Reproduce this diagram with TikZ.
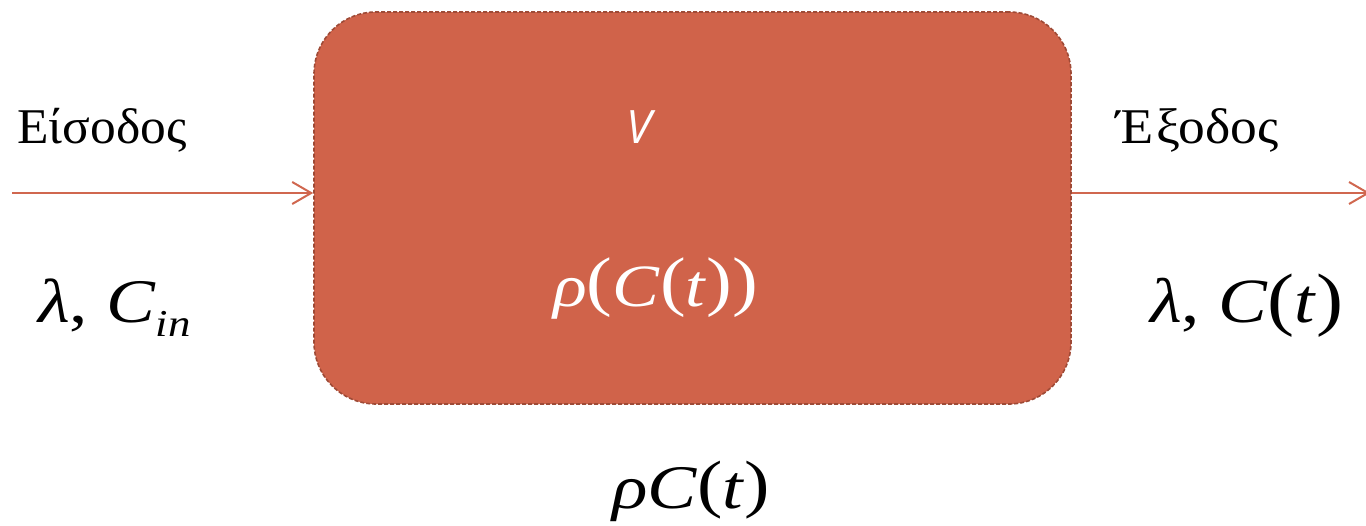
\documentclass[tikz,border=0pt]{standalone}
\usepackage{fontspec}
\setmainfont{Liberation Serif}
\newfontfamily\vfont{Open Sans}
\usetikzlibrary{arrows.meta}
\definecolor{boxfill}{HTML}{D0634A}
\definecolor{boxline}{HTML}{9E4A36}
\definecolor{arrowcol}{HTML}{D0674F}
% big parenthesis: size, raise, glyph
\newcommand\bpar[3]{\raisebox{#2}{\fontsize{#1}{#1}\selectfont #3}}
\tikzset{
  flow/.style={draw=arrowcol, line width=2pt, -{Straight Barb[length=19pt,width=22pt,line width=2pt]}},
  lbl/.style={inner sep=0pt, anchor=base west},
  reactor/.style={fill=boxfill, draw=boxline, line width=1.6pt, dash pattern=on 4pt off 2pt, rounded corners=62pt, minimum width=757pt, minimum height=392pt, inner sep=0pt}
}
\begin{document}
\begin{tikzpicture}[x=1pt,y=-1pt]
\useasboundingbox (0,0) rectangle (1366,525);
\node[reactor] (box) at (692.5,208) {};
\coordinate (in) at (12,193);
\coordinate (out) at (1370,193);
\draw[flow] (in) -- (in -| box.west);
\draw[flow] (box.east |- out) -- (out);
\node[lbl, font=\fontsize{50}{52}\selectfont] (eisodos) at (17,143) {\scalebox{1.03}[1]{Είσοδος}};
\node[lbl, font=\fontsize{50}{52}\selectfont] (exodos) at (1116,143) {\scalebox{1.07}[1]{Έ\kern3pt ξοδος}};
\node[lbl, text=white, font=\vfont\itshape\fontsize{46}{50}\selectfont] (vol) at (626,143) {V};
\node[lbl, text=white, font=\fontsize{60}{62}\selectfont] (rho) at (553,306)
  {\scalebox{1.17}[1]{\textit{ρ}\bpar{66}{3pt}{(}\textit{C}\bpar{66}{3pt}{(}\textit{t}\bpar{66}{3pt}{)}\bpar{66}{3pt}{)}}};
\node[lbl, font=\fontsize{62}{64}\selectfont] (lin) at (38,322)
  {\scalebox{1.18}[1]{\textit{λ}, \textit{C}\raisebox{-14pt}{\fontsize{38}{40}\selectfont\textit{in}}}};
\node[lbl, font=\fontsize{63}{65}\selectfont] (lout) at (1150,322)
  {\scalebox{1.16}[1]{\textit{λ}, \textit{C}\bpar{70}{0pt}{(}\textit{t}\bpar{70}{0pt}{)}}};
\node[lbl, font=\fontsize{62}{64}\selectfont] (rhoc) at (612,508)
  {\scalebox{1.19}[1]{\textit{ρC}\bpar{64}{3pt}{(}\textit{t}\bpar{64}{3pt}{)}}};
\end{tikzpicture}
\end{document}
